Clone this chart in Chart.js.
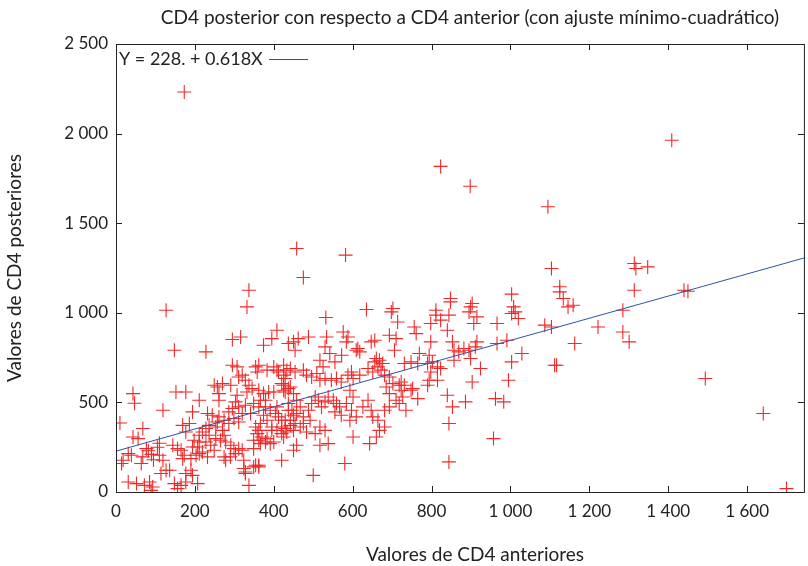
<!DOCTYPE html>
<html>
<head>
<meta charset="utf-8">
<script src="https://cdn.jsdelivr.net/npm/chart.js@4.4.1/dist/chart.umd.min.js"></script>
<style>
  html, body { margin: 0; padding: 0; overflow: hidden; background: #fff; }
</style>
</head>
<body>
<canvas id="chart" width="812" height="566"></canvas>
<script>
// CD4 antes (x) y después (y)
const cd4Anterior = [
  173,823,898,1095,1409,458,582,475,337,332,
  127,848,1003,1104,1125,1125,1134,811,1146,1159,
  1104,1222,1163,1117,1314,1318,1348,1314,1285,1285,
  1301,1440,1450,1494,1641,1700,
  635,698,702,714,532,408,395,374,437,450,
  462,454,488,534,530,576,588,584,613,609,
  618,647,656,693,710,706,660,668,676,656,
  542,572,555,517,525,
  383,408,425,433,442,454,429,420,425,475,
  483,496,509,517,530,546,559,571,588,597,
  601,618,639,651,664,672,681,693,702,718,
  723,710,718,685,693,
  362,374,387,366,349,379,391,404,412,420,
  374,383,366,395,408,420,429,358,370,383,
  391,366,349,
  442,450,458,437,467,446,458,475,488,496,
  505,513,521,530,538,551,559,567,555,571,
  517,530,505,483,467,450,442,475,492,538,
  517,458,450,
  593,601,584,597,609,593,626,639,647,651,
  664,681,693,668,681,660,601,643,420,580,
  500,362,
  848,899,903,895,915,907,811,823,798,844,
  840,756,761,966,1003,1012,1020,1008,1087,798,
  853,857,869,882,895,915,911,966,991,769,
  794,802,765,731,748,857,899,790,815,798,
  823,815,794,790,924,1003,1029,1112,903,995,
  723,731,748,727,735,765,752,840,853,886,
  962,983,844,957,844,
  295,307,320,311,354,362,358,400,412,425,
  249,257,270,291,261,328,337,332,345,400,
  379,425,437,429,152,177,211,119,194,232,
  307,303,311,295,286,320,328,341,362,408,
  437,450,429,442,454,420,433,425,169,186,
  177,219,236,253,270,274,253,228,240,249,
  265,278,211,207,219,232,203,144,156,165,
  173,169,110,119,127,190,177,194,148,165,
  156,207,278,274,324,320,311,299,303,291,
  324,328,349,362,379,400,395,362,349,337,
  362,354,299,286,311,274,261,244,257,236,
  228,211,198,194,211,190,
  10,68,43,47,148,228,295,316,43,56,
  110,77,31,39,14,18,64,68,82,95,
  105,90,31,52,72,85,93,89,114,136,
  177,261,354,290,328
];
const cd4Posterior = [
  2232,1817,1706,1592,1963,1359,1322,1197,1126,1033,
  1014,1080,1104,1247,1145,1117,1080,1014,1033,1042,
  921,921,829,707,1275,1247,1256,1126,1014,893,
  838,1126,1120,633,438,19,
  1018,1005,1024,949,974,903,856,819,829,838,
  856,791,865,865,810,893,865,838,801,791,
  782,838,847,875,856,791,745,735,717,726,
  773,763,726,735,698,
  680,680,707,680,689,670,633,605,568,680,
  652,642,661,624,633,624,633,614,652,670,
  633,652,689,670,698,680,652,642,605,596,
  568,512,494,586,549,
  568,549,558,512,494,475,456,438,419,400,
  428,400,382,363,344,326,354,326,307,298,
  270,270,289,
  586,549,512,494,475,456,438,419,456,494,
  530,512,475,503,530,512,494,475,447,428,
  363,344,326,335,363,344,400,382,400,270,
  261,261,233,
  568,530,494,456,419,400,475,512,456,419,
  400,456,475,344,363,307,307,270,177,159,
  93,149,
  1061,1033,1052,1005,977,940,987,959,940,987,
  903,921,884,940,996,1005,968,1033,931,838,
  838,791,782,801,791,838,810,829,847,773,
  763,726,717,717,726,735,745,717,698,670,
  689,624,624,596,689,726,773,707,614,624,
  614,596,568,530,456,521,577,540,475,503,
  521,503,382,298,168,
  707,698,652,642,698,707,670,698,670,652,
  596,586,605,596,549,624,596,558,577,558,
  512,596,577,558,558,558,512,456,447,438,
  540,503,475,466,447,438,484,438,475,475,
  456,428,400,372,382,363,335,307,372,382,
  335,335,317,363,344,317,298,279,261,233,
  289,279,279,251,223,196,205,261,242,233,
  205,186,205,177,121,121,103,93,47,37,
  19,47,177,196,177,233,242,242,214,261,
  131,112,242,289,279,279,344,140,140,37,
  344,363,410,382,391,400,419,428,391,372,
  354,317,289,251,214,186,
  385,354,549,495,791,782,851,865,307,298,
  272,242,214,205,159,177,159,196,230,180,
  250,210,56,47,37,56,28,9,103,121,
  56,512,149,196,103
];

// ajuste mínimo-cuadrático
const fitIntercept = 228;
const fitSlope = 0.618;
const fitLabel = 'Y = 228. + 0.618X';
const chartTitle = 'CD4 posterior con respecto a CD4 anterior (con ajuste mínimo-cuadrático)';
const xTitle = 'Valores de CD4 anteriores';
const yTitle = 'Valores de CD4 posteriores';

const xRange = [0, 1744];
const yRange = [0, 2500];

const pointColor = '#f02828';
const lineColor = '#2b55a5';
const frameColor = '#222';

function spaced(v) {
    if (v >= 1000) {
        return Math.floor(v / 1000) + ' ' + String(v % 1000).padStart(3, '0');
    }
    return String(v);
}

const puntos = cd4Anterior.map((x, i) => ({ x: x, y: cd4Posterior[i] }));
const recta = [
    { x: xRange[0], y: fitIntercept + fitSlope * xRange[0] },
    { x: xRange[1], y: fitIntercept + fitSlope * xRange[1] }
];

// frame with inward ticks on all sides, titles, and the gnuplot style key
const frameTicks = {
    id: 'frameTicks',
    afterDraw(chart) {
        const { ctx, chartArea: a, scales } = chart;
        const x = scales.x, y = scales.y;
        ctx.save();
        ctx.strokeStyle = frameColor;
        ctx.lineWidth = 1;
        ctx.strokeRect(a.left + 0.5, a.top + 0.5, a.right - a.left, a.bottom - a.top);
        ctx.beginPath();
        x.ticks.forEach(t => {
            const px = Math.round(x.getPixelForValue(t.value)) + 0.5;
            ctx.moveTo(px, a.bottom); ctx.lineTo(px, a.bottom - 6);
            ctx.moveTo(px, a.top); ctx.lineTo(px, a.top + 6);
        });
        y.ticks.forEach(t => {
            const py = Math.round(y.getPixelForValue(t.value)) + 0.5;
            ctx.moveTo(a.left, py); ctx.lineTo(a.left + 6, py);
            ctx.moveTo(a.right, py); ctx.lineTo(a.right - 6, py);
        });
        ctx.stroke();

        ctx.fillStyle = frameColor;
        ctx.textBaseline = 'middle';
        ctx.font = '19px Lato';
        ctx.textAlign = 'center';
        ctx.fillText(chartTitle, a.left + 354, a.top - 26);
        ctx.fillText(xTitle, a.left + 359, a.bottom + 63);

        ctx.font = '18px Lato';
        ctx.textAlign = 'left';
        ctx.fillText(fitLabel, a.left + 3, a.top + 15);
        ctx.strokeStyle = lineColor;
        ctx.beginPath();
        ctx.moveTo(a.left + 153, a.top + 15.5);
        ctx.lineTo(a.left + 192, a.top + 15.5);
        ctx.stroke();
        ctx.restore();
    }
};

Chart.defaults.font.family = 'Lato';
Chart.defaults.color = frameColor;

new Chart(document.getElementById('chart'), {
    type: 'scatter',
    data: {
        datasets: [{
            label: fitLabel,
            data: recta,
            showLine: true,
            borderColor: lineColor,
            borderWidth: 1,
            pointRadius: 0,
            fill: false,
            order: 0
        }, {
            label: 'CD4',
            data: puntos,
            pointStyle: 'cross',
            pointRadius: 7,
            pointHoverRadius: 7,
            borderColor: pointColor,
            backgroundColor: pointColor,
            borderWidth: 1.1,
            order: 1
        }]
    },
    options: {
        responsive: false,
        animation: false,
        layout: { padding: { top: 44, right: 3 } },
        plugins: {
            legend: { display: false },
            tooltip: { enabled: false }
        },
        scales: {
            x: {
                type: 'linear',
                min: xRange[0],
                max: xRange[1],
                grid: { display: false, drawTicks: false },
                border: { display: false },
                afterFit: s => { s.height = 74; },
                ticks: {
                    stepSize: 200,
                    includeBounds: false,
                    autoSkip: false,
                    maxRotation: 0,
                    padding: 9,
                    font: { size: 17 },
                    callback: v => spaced(v)
                }
            },
            y: {
                type: 'linear',
                min: yRange[0],
                max: yRange[1],
                grid: { display: false, drawTicks: false },
                border: { display: false },
                afterFit: s => { s.width = 116; },
                ticks: {
                    stepSize: 500,
                    includeBounds: false,
                    padding: 8,
                    font: { size: 17 },
                    callback: v => spaced(v)
                },
                title: {
                    display: true,
                    text: yTitle,
                    font: { size: 19 },
                    padding: { top: 3, bottom: 0 }
                }
            }
        }
    },
    plugins: [frameTicks]
});
</script>
</body>
</html>
